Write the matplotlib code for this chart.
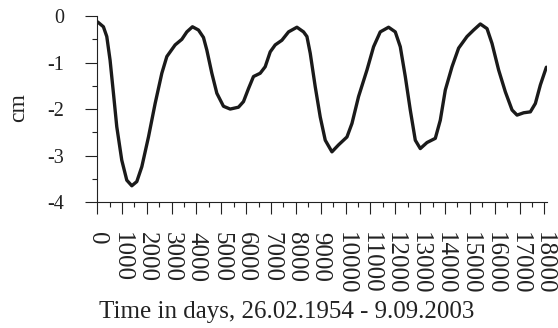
import matplotlib.pyplot as plt
from matplotlib.ticker import MultipleLocator

# values (days, cm)
days = [0, 54, 254, 390, 523, 658, 792, 993, 1195, 1397, 1598, 1800, 2068,
        2336, 2605, 2807, 3141, 3410, 3612, 3838, 4080, 4281, 4416, 4618,
        4819, 5086, 5356, 5690, 5891, 6093, 6294, 6564, 6765, 6967, 7168,
        7437, 7705, 8042, 8308, 8445, 8578, 8779, 8980, 9182, 9451, 9718,
        10056, 10257, 10523, 10861, 11127, 11396, 11731, 12000, 12202,
        12403, 12604, 12806, 13007, 13277, 13611, 13812, 14014, 14284,
        14549, 14887, 15154, 15423, 15693, 15894, 16160, 16430, 16700,
        16901, 17167, 17437, 17638, 17840, 18081]
level = [-0.12, -0.14, -0.23, -0.44, -0.95, -1.66, -2.38, -3.10, -3.53,
         -3.65, -3.56, -3.24, -2.60, -1.88, -1.23, -0.87, -0.62, -0.50,
         -0.34, -0.23, -0.30, -0.46, -0.73, -1.23, -1.66, -1.94, -2.00,
         -1.96, -1.84, -1.56, -1.30, -1.23, -1.09, -0.77, -0.62, -0.52,
         -0.34, -0.24, -0.34, -0.44, -0.80, -1.52, -2.17, -2.67, -2.92,
         -2.77, -2.60, -2.31, -1.73, -1.16, -0.66, -0.34, -0.24, -0.34,
         -0.66, -1.30, -2.02, -2.67, -2.85, -2.72, -2.63, -2.24, -1.59,
         -1.09, -0.69, -0.44, -0.30, -0.17, -0.27, -0.59, -1.16, -1.63,
         -2.02, -2.13, -2.08, -2.06, -1.88, -1.48, -1.10]

plt.rcParams['font.family'] = ['Liberation Serif', 'DejaVu Serif']
ink = '#222222'

fig = plt.figure(figsize=(5.58, 3.28), dpi=100)
ax = fig.add_axes([0.174, 0.384, 0.806, 0.567])

ax.plot(days, level, color='#1a1a1a', linewidth=2.4,
        solid_joinstyle='round', solid_capstyle='round')

ax.set_xlim(0, 18100)
ax.set_ylim(-4, 0)
ax.set_xticks(range(0, 18001, 1000))
ax.xaxis.set_minor_locator(MultipleLocator(500))
ax.set_yticks([0, -1, -2, -3, -4])
ax.set_yticklabels(['0', '-1', '-2', '-3', '-4'])
ax.yaxis.set_minor_locator(MultipleLocator(0.5))

ax.tick_params(axis='both', which='major', length=8.6, width=0.8, colors=ink,
               labelcolor=ink)
ax.tick_params(axis='both', which='minor', length=3.6, width=0.8, colors=ink)
ax.tick_params(axis='x', which='major', labelsize=18, labelrotation=-90, pad=13)
ax.tick_params(axis='y', which='major', labelsize=14.5, pad=15)

for s in ['top', 'right']:
    ax.spines[s].set_visible(False)
for s in ['left', 'bottom']:
    ax.spines[s].set_color(ink)
    ax.spines[s].set_linewidth(0.8)

fig.text(19 / 558, 1 - 108 / 328, 'cm', fontsize=17, color=ink,
         rotation=90, ha='center', va='center')
fig.text(287 / 558, 1 - 312 / 328, 'Time in days, 26.02.1954 - 9.09.2003',
         fontsize=18, color=ink, ha='center', va='center')

fig.savefig('out.png', dpi=100)
